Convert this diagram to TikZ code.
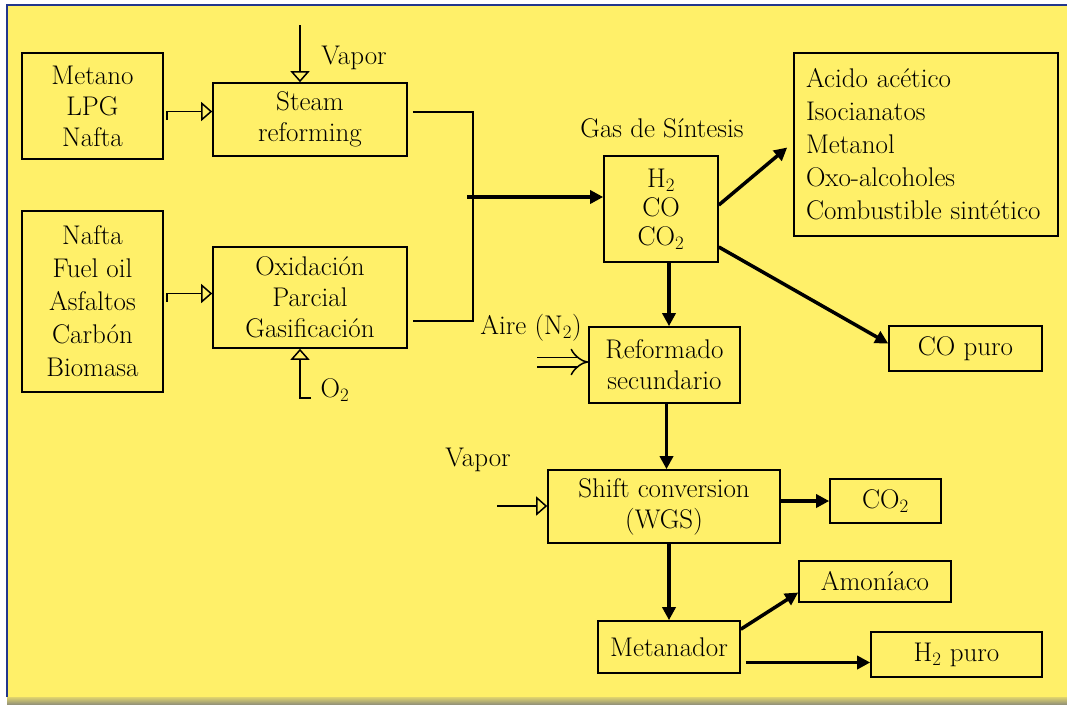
\documentclass[tikz,border=0pt]{standalone}
\usepackage{xcolor}
\usepackage{tikz}
\usetikzlibrary{arrows.meta,positioning,calc}
\definecolor{bgyellow}{RGB}{255,240,105}
\definecolor{frameblue}{RGB}{35,55,140}
\definecolor{shadowgray}{RGB}{150,148,120}
\tikzset{
  procbox/.style={draw, line width=1.6pt, inner sep=0pt, align=center,
    font=\rmfamily\fontsize{27}{31}\selectfont},
  lbl/.style={inner sep=0pt, font=\rmfamily\fontsize{27}{31}\selectfont},
  feedline/.style={line width=1.5pt},
  feedarrow/.style={line width=1.5pt, -{Triangle[open, length=11pt, width=19pt, line width=1.5pt]}},
  airarrow/.style={double=bgyellow, double distance=8pt, line width=1.5pt, -{Implies[length=12pt]}},
  flowarrow/.style={line width=3.5pt, -{Triangle[length=13pt, width=13pt]}}
}

\begin{document}
\begin{tikzpicture}[x=1pt, y=-1pt]
  \useasboundingbox (0,0) rectangle (1067,704);

  % Background
  \fill[bgyellow] (7,5) rectangle (1067,697);
  \shade[top color=bgyellow!70!shadowgray, bottom color=shadowgray] (7,697) rectangle (1067,704);
  \draw[frameblue, line width=2.2pt] (7,697) -- (7,5) -- (1067,5);

  % Feedstocks
  \node[procbox, minimum width=141, minimum height=106] (metano) at (92.5,106) {Metano\\LPG\\Nafta};
  \node[procbox, minimum width=141, minimum height=181, font=\rmfamily\fontsize{27}{33}\selectfont] (nafta) at (92.5,301.5)
    {Nafta\\Fuel oil\\Asfaltos\\Carbón\\Biomasa};

  % Reformers
  \node[procbox, minimum width=194, minimum height=73] (steam) at (310,119.5) {Steam\\reforming};
  \node[procbox, minimum width=194, minimum height=101] (oxid) at (310,297.5) {Oxidación\\Parcial\\Gasificación};

  % Syngas
  \node[procbox, minimum width=114, minimum height=106, font=\rmfamily\fontsize{27}{29}\selectfont] (gas) at (661,209)
    {H\textsubscript{2}\\CO\\CO\textsubscript{2}};
  \node[lbl] (gaslbl) at (662,128) {Gas de Síntesis};

  % Products
  \node[procbox, text width=240, inner xsep=12pt, minimum height=183, align=left, font=\rmfamily\fontsize{27}{33}\selectfont] (prod) at (926,144.5)
    {Acido acético\\Isocianatos\\Metanol\\Oxo-alcoholes\\Combustible sintético};
  \node[procbox, minimum width=153, minimum height=45] (copuro) at (965.5,348.5) {CO puro};

  % Hydrogen line
  \node[procbox, minimum width=151, minimum height=76] (refo) at (664.5,365) {Reformado\\secundario};
  \node[procbox, minimum width=232, minimum height=73] (shift) at (664,506.5) {Shift conversion\\(WGS)};
  \node[procbox, minimum width=111, minimum height=44] (co2) at (885.5,501) {CO\textsubscript{2}};
  \node[procbox, minimum width=142, minimum height=52] (meta) at (669,647) {Metanador};
  \node[procbox, minimum width=152, minimum height=41] (amon) at (875,581.5) {Amoníaco};
  \node[procbox, minimum width=171, minimum height=45] (htwo) at (956.5,654.5) {H\textsubscript{2} puro};

  % Inlet labels
  \node[lbl] (vapora) at (354,58) {Vapor};
  \node[lbl] (otwo) at (335,390) {O\textsubscript{2}};
  \node[lbl] (aire) at (531,328) {Aire (N\textsubscript{2})};
  \node[lbl] (vaporb) at (478,460) {Vapor};
  \coordinate (vaporain) at (300,25);
  \coordinate (otwoin) at (311,398);
  \coordinate (airein) at (537,362);
  \coordinate (vaporbin) at (497,506);
  \coordinate (htwoin) at ([yshift=-8pt]htwo.west);

  % Inlets
  \draw[feedarrow] (vaporain) -- ([xshift=-10pt]steam.north);
  \draw[feedarrow] ([xshift=3pt,yshift=-14pt]metano.east) |- ([yshift=8pt]steam.west);
  \draw[feedarrow] ([xshift=3pt]nafta.east) |- ([yshift=4pt]oxid.west);
  \draw[feedarrow] (otwoin) -| ([xshift=-10pt]oxid.south);
  \draw[airarrow] (airein) -- (airein -| refo.west);
  \draw[feedarrow] (vaporbin) -- (vaporbin -| shift.west);

  % Merge
  \coordinate (mergetop) at (473,112);
  \coordinate (mergebot) at (473,321);
  \coordinate (mergemid) at (467,197);
  \draw[feedline] ([xshift=5pt]steam.east |- mergetop) -- (mergetop) -- (mergebot) -- ([xshift=5pt]oxid.east |- mergebot);
  \draw[flowarrow] (mergemid) -- (gas.west |- mergemid);

  % Main flow
  \draw[flowarrow] ([yshift=4pt]gas.east) -- ([xshift=-6pt,yshift=-3pt]prod.west);
  \draw[flowarrow] ([yshift=-38pt]gas.east) -- ([yshift=5pt]copuro.west);
  \draw[flowarrow] ([xshift=8pt]gas.south) -- ([xshift=8pt]gas.south |- refo.north);
  \draw[flowarrow] ([xshift=2pt]refo.south) -- ([xshift=2pt]refo.south |- shift.north);
  \draw[flowarrow] (shift.east |- co2.west) -- (co2.west);
  \draw[flowarrow] (shift.south -| meta.north) -- (meta.north);
  \draw[flowarrow] ([yshift=-9pt]meta.north east) -- ([yshift=-11pt]amon.west);
  \draw[flowarrow] ([xshift=5pt]meta.east |- htwoin) -- (htwoin);
\end{tikzpicture}
\end{document}
